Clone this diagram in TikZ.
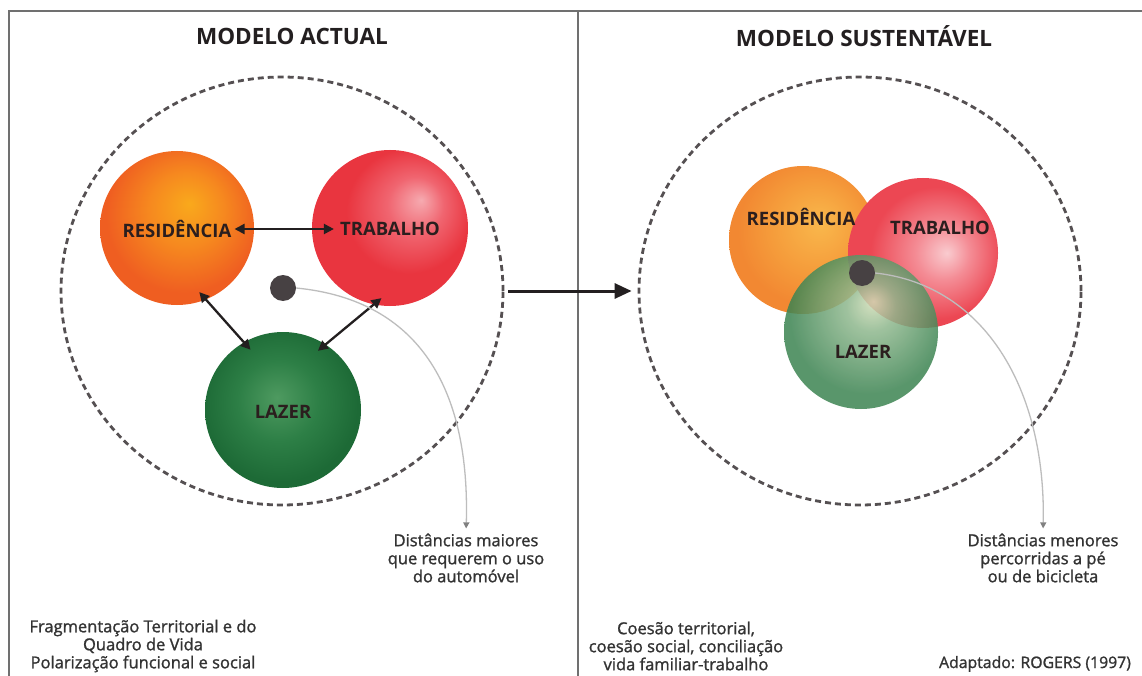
\documentclass[tikz,border=0pt]{standalone}
\usepackage{fontspec}
\setmainfont{Open Sans}
\newfontfamily\notefont{Open Sans}[FakeBold=1.3]
\usetikzlibrary{shapes.geometric,arrows.meta}

% palette
\definecolor{ink}{HTML}{231F20}
\definecolor{framegray}{HTML}{707070}
\definecolor{dashgray}{HTML}{555052}
\definecolor{dotgray}{HTML}{474143}
\definecolor{thingray}{HTML}{BDBDBD}
\definecolor{textgray}{HTML}{333333}
\definecolor{labelink}{HTML}{2B1E1E}

% left spheres
\definecolor{resAin}{HTML}{F9A91C}
\definecolor{resAmid}{HTML}{F6891F}
\definecolor{resAout}{HTML}{EF5E21}
\definecolor{trbAin}{HTML}{F6AAB0}
\definecolor{trbAmid}{HTML}{F06570}
\definecolor{trbAout}{HTML}{E9353F}
\definecolor{lazAin}{HTML}{4E9A60}
\definecolor{lazAmid}{HTML}{2D7F46}
\definecolor{lazAout}{HTML}{1D6A36}
% right spheres
\definecolor{resBin}{HTML}{F9B84C}
\definecolor{resBmid}{HTML}{F59C3B}
\definecolor{resBout}{HTML}{F28832}
\definecolor{trbBin}{HTML}{F9CBCF}
\definecolor{trbBmid}{HTML}{F48C95}
\definecolor{trbBout}{HTML}{EC4753}
\definecolor{lazBin}{HTML}{D2DEB8}
\definecolor{lazBmid}{HTML}{8FB88E}
\definecolor{lazBout}{HTML}{3D8452}

\pgfdeclareradialshading{shResA}{\pgfpoint{4bp}{8bp}}{color(0bp)=(resAin);color(12bp)=(resAmid);color(25bp)=(resAout);color(50bp)=(resAout)}
\pgfdeclareradialshading{shTrbA}{\pgfpoint{10bp}{9bp}}{color(0bp)=(trbAin);color(9bp)=(trbAmid);color(20bp)=(trbAout);color(50bp)=(trbAout)}
\pgfdeclareradialshading{shLazA}{\pgfpoint{-2bp}{4bp}}{color(0bp)=(lazAin);color(13bp)=(lazAmid);color(25bp)=(lazAout);color(50bp)=(lazAout)}
\pgfdeclareradialshading{shResB}{\pgfpoint{6bp}{6bp}}{color(0bp)=(resBin);color(15bp)=(resBmid);color(25bp)=(resBout);color(50bp)=(resBout)}
\pgfdeclareradialshading{shTrbB}{\pgfpoint{8bp}{0bp}}{color(0bp)=(trbBin);color(9bp)=(trbBmid);color(22bp)=(trbBout);color(50bp)=(trbBout)}
\pgfdeclareradialshading{shLazB}{\pgfpoint{4bp}{10bp}}{color(0bp)=(lazBin);color(8bp)=(lazBmid);color(25bp)=(lazBout);color(50bp)=(lazBout)}

\tikzset{
  frameline/.style={draw=framegray,line width=1.4pt},
  zone/.style={ellipse,draw=dashgray,line width=2.8pt,dash pattern=on 6pt off 4pt,
    minimum width=442pt,minimum height=428pt,inner sep=0pt},
  sphere/.style={circle,inner sep=0pt,minimum size=#1,shade},
  hub/.style={circle,fill=dotgray,inner sep=0pt,minimum size=26pt},
  title/.style={font=\fontsize{22.5}{26}\selectfont\bfseries,text=ink},
  lab/.style={font=\fontsize{18.5}{22}\selectfont\bfseries,text=labelink,inner sep=1pt},
  note/.style={font=\notefont\fontsize{16.5}{18}\selectfont,text=textgray,align=center,inner sep=0pt},
  dbl/.style={{Triangle[length=10pt,width=10pt]}-{Triangle[length=10pt,width=10pt]},
    line width=2.3pt,draw=ink},
  bigarrow/.style={-{Triangle[length=17pt,width=15pt]},line width=3pt,draw=ink},
  lead/.style={draw=thingray,line width=1.3pt,-{Triangle[length=6pt,width=6pt,color=gray]}},
}

\begin{document}
\begin{tikzpicture}[x=1pt,y=-1pt]
\useasboundingbox[fill=white] (0,0) rectangle (1142,676);

% frame
\draw[frameline] (9,676) -- (9,11) -- (1142,11);
\draw[frameline] (578,11) -- (578,676);

% titles
\node[title] (titleA) at (292,36) {MODELO ACTUAL};
\node[title] (titleB) at (864,36) {MODELO SUSTENTÁVEL};

% dashed territories
\node[zone] (zoneA) at (282,291) {};
\node[zone] (zoneB) at (860,291) {};

% ---- current model: separate spheres
\node[sphere=154pt,shading=shResA] (resA) at (177,228) {};
\node[sphere=156pt,shading=shTrbA] (trbA) at (390,228) {};
\node[sphere=156pt,shading=shLazA] (lazA) at (283,410) {};
\node[hub] (hubA) at (283,288) {};

\node[lab] (resAt) at (177,229) {RESIDÊNCIA};
\node[lab] (trbAt) at (390,229) {TRABALHO};
\node[lab] (lazAt) at (283,412) {LAZER};

\draw[dbl,shorten <=2pt,shorten >=5pt] (resAt.east) -- (trbAt.west);
\draw[dbl,shorten <=-10pt,shorten >=-10pt] (resA.-68) -- (lazA.120);
\draw[dbl,shorten <=-10pt,shorten >=-10pt] (trbA.-102) -- (lazA.57);

% ---- sustainable model: overlapping spheres
\node[sphere=148pt,shading=shResB] (resB) at (803,240) {};
\node[sphere=150pt,shading=shTrbB] (trbB) at (923,253) {};
\node[sphere=154pt,shading=shLazB,fill opacity=0.85] (lazB) at (861,332) {};
\node[hub] (hubB) at (862,273) {};

\node[lab] (resBt) at (801,217) {RESIDÊNCIA};
\node[lab] (trbBt) at (940,228) {TRABALHO};
\node[lab] (lazBt) at (863,352) {LAZER};

% transition arrow
\draw[bigarrow,shorten <=4pt,shorten >=6pt] (zoneA.east) -- (zoneB.west);

% distance notes
\node[note] (noteA) at (466,558) {Distâncias maiores\\que requerem o uso\\do automóvel};
\node[note] (noteB) at (1043,558) {Distâncias menores\\percorridas a pé\\ou de bicicleta};

\draw[lead,shorten >=5pt] (hubA.east) .. controls (420,300) and (470,390) .. (noteA.north);
\draw[lead,shorten >=5pt] (hubB.east) .. controls (985,285) and (1046,390) .. (noteB.north);

% bottom captions
\node[note] (capA) at (143,646) {Fragmentação Territorial e do\\Quadro de Vida\\Polarização funcional e social};
\node[note] (capB) at (686,646) {Coesão territorial,\\coesão social, conciliação\\vida familiar-trabalho};
\node[note,anchor=base,font=\notefont\fontsize{15.8}{18}\selectfont] (src) at (1035,668) {Adaptado: ROGERS (1997)};
\end{tikzpicture}
\end{document}
